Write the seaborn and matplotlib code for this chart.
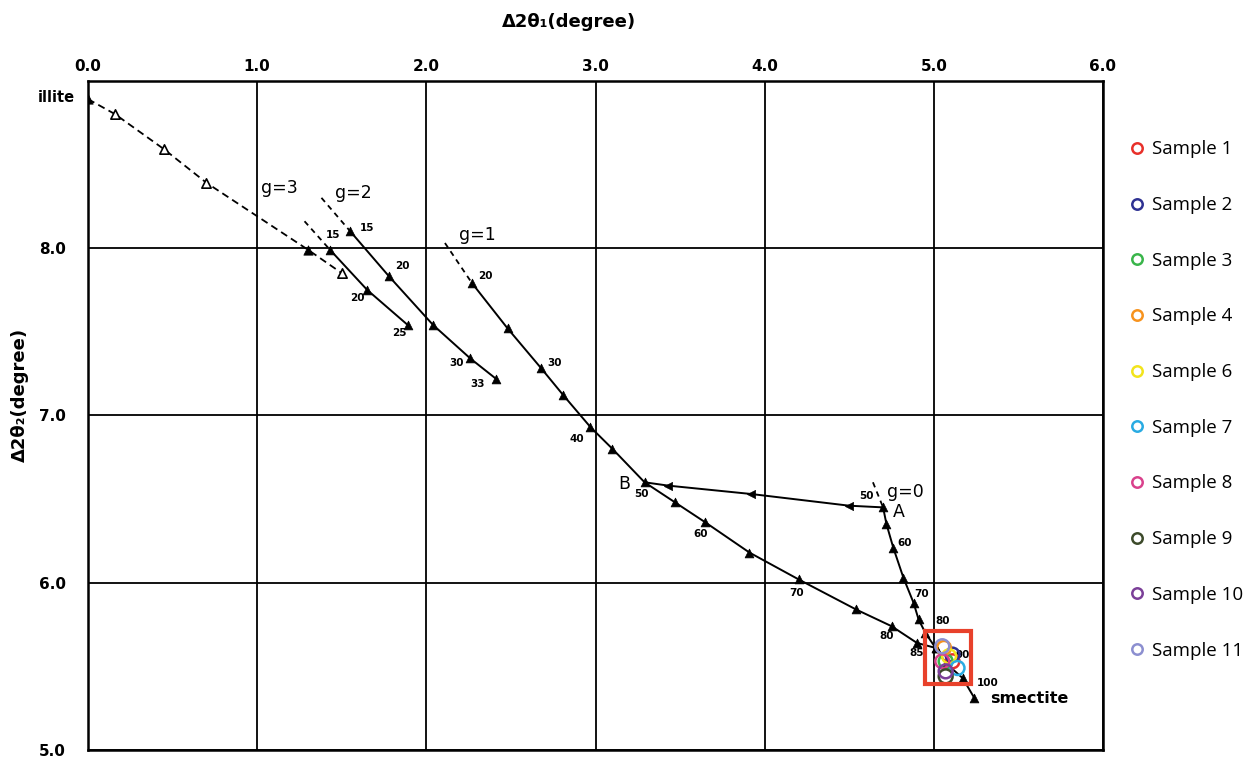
import numpy as np
import pandas as pd
import seaborn as sns
import matplotlib.pyplot as plt
from matplotlib.patches import Rectangle
from matplotlib.lines import Line2D

# illite line (dashed, open triangles)
illite_x = [0.0, 0.16, 0.45, 0.70, 1.30, 1.50]
illite_y = [8.89, 8.80, 8.59, 8.39, 7.99, 7.85]
illite_open = [False, True, True, True, False, True]

# g = 3 / 2 / 1 / 0 curves, first point = start of dashed lead-in
g3_x = [1.28, 1.43, 1.65, 1.89]
g3_y = [8.16, 7.99, 7.75, 7.54]

g2_x = [1.38, 1.55, 1.78, 2.04, 2.26, 2.41]
g2_y = [8.30, 8.10, 7.83, 7.54, 7.34, 7.22]

g1_x = [2.11, 2.27, 2.48, 2.68, 2.81, 2.97, 3.10, 3.29, 3.47, 3.65,
        3.91, 4.20, 4.54, 4.75, 4.90, 5.01, 5.07, 5.17, 5.24]
g1_y = [8.03, 7.79, 7.52, 7.28, 7.12, 6.93, 6.80, 6.60, 6.48, 6.36,
        6.18, 6.02, 5.84, 5.74, 5.64, 5.61, 5.52, 5.43, 5.31]

g0_x = [4.64, 4.70, 4.72, 4.76, 4.82, 4.88, 4.91, 4.95, 5.01]
g0_y = [6.60, 6.45, 6.35, 6.21, 6.03, 5.88, 5.78, 5.70, 5.61]

# A -> B connection
ab_x = [4.70, 4.50, 3.92, 3.43, 3.29]
ab_y = [6.45, 6.46, 6.53, 6.58, 6.60]

# samples
samples = ["Sample 1", "Sample 2", "Sample 3", "Sample 4", "Sample 6",
           "Sample 7", "Sample 8", "Sample 9", "Sample 10", "Sample 11"]
sample_x = [5.11, 5.11, 5.07, 5.06, 5.09, 5.14, 5.05, 5.07, 5.07, 5.05]
sample_y = [5.53, 5.57, 5.53, 5.61, 5.56, 5.49, 5.53, 5.44, 5.47, 5.62]
sample_colors = ["#e8302a", "#2e3192", "#39b54a", "#f7931e", "#f2e41c",
                 "#29abe2", "#d9418c", "#3c4a2a", "#7b3f98", "#8c8fd0"]

# numbers along the curves
point_labels = [
    ("15", 1.45, 8.08), ("20", 1.59, 7.70), ("25", 1.84, 7.49),
    ("15", 1.65, 8.12), ("20", 1.86, 7.89), ("30", 2.18, 7.31), ("33", 2.30, 7.19),
    ("20", 2.35, 7.83), ("30", 2.76, 7.31), ("40", 2.89, 6.86),
    ("50", 3.27, 6.53), ("60", 3.62, 6.29), ("70", 4.19, 5.94),
    ("80", 4.72, 5.68), ("85", 4.90, 5.58),
    ("50", 4.60, 6.52), ("60", 4.83, 6.24), ("70", 4.93, 5.93),
    ("80", 5.05, 5.77), ("90", 5.17, 5.57), ("100", 5.32, 5.40),
]
curve_labels = [("g=3", 1.13, 8.36), ("g=2", 1.57, 8.33), ("g=1", 2.30, 8.08),
                ("g=0", 4.83, 6.54), ("A", 4.79, 6.42), ("B", 3.17, 6.59)]

sns.set_style("white")
plt.rcParams['font.family'] = ['DejaVu Sans']
plt.rcParams['text.color'] = 'black'
plt.rcParams['xtick.color'] = 'black'
plt.rcParams['ytick.color'] = 'black'

fig = plt.figure(figsize=(12.58, 7.58), dpi=100)
ax = fig.add_axes([88 / 1258, 8 / 758, 1015 / 1258, 669.3 / 758])

# illite dashed line
sns.lineplot(x=illite_x, y=illite_y, sort=False, color="black", lw=1.3,
             linestyle=(0, (4, 2.5)), ax=ax)
ill = pd.DataFrame({"x": illite_x, "y": illite_y, "open": illite_open})
sns.scatterplot(data=ill[ill["open"]], x="x", y="y", marker="^", s=45,
                facecolor="white", edgecolor="black", linewidth=1.2, ax=ax, zorder=4)
sns.scatterplot(data=ill[~ill["open"]], x="x", y="y", marker="^", s=45,
                color="black", edgecolor="black", ax=ax, zorder=4)

for gx, gy in [(g3_x, g3_y), (g2_x, g2_y), (g1_x, g1_y), (g0_x, g0_y)]:
    sns.lineplot(x=gx[:2], y=gy[:2], sort=False, color="black", lw=1.3,
                 linestyle=(0, (3, 2.5)), ax=ax)
    sns.lineplot(x=gx[1:], y=gy[1:], sort=False, color="black", lw=1.4, ax=ax)
    sns.scatterplot(x=gx[1:], y=gy[1:], marker="^", s=40, color="black",
                    edgecolor="black", ax=ax, zorder=4)

sns.lineplot(x=ab_x, y=ab_y, sort=False, color="black", lw=1.4, ax=ax)
sns.scatterplot(x=ab_x[1:4], y=ab_y[1:4], marker="<", s=35, color="black",
                edgecolor="black", ax=ax, zorder=4)

for txt, x, y in point_labels:
    ax.text(x, y, txt, fontsize=7.5, fontweight="bold", ha="center",
            va="center", zorder=3)
for txt, x, y in curve_labels:
    ax.text(x, y, txt, fontsize=12.5, ha="center", va="center", zorder=3)

ax.text(-0.075, 8.90, "illite", fontsize=10.5, fontweight="bold",
        ha="right", va="center", clip_on=False)
ax.text(5.33, 5.31, "smectite", fontsize=11.5, fontweight="bold",
        ha="left", va="center")

# samples (open circles)
for name, x, y, c in zip(samples, sample_x, sample_y, sample_colors):
    sns.scatterplot(x=[x], y=[y], s=100, color=c, facecolor="none",
                    edgecolor=c, linewidth=1.8, ax=ax, zorder=6, legend=False)

ax.add_patch(Rectangle((4.947, 5.394), 0.272, 0.317, fill=False,
                       edgecolor="#e8412b", lw=3, zorder=7))

ax.set_xlim(0, 6)
ax.set_ylim(5, 9)
ax.set_xticks(np.arange(0, 7, 1))
ax.set_xticklabels([f"{v:.1f}" for v in np.arange(0, 7, 1)])
ax.set_yticks([5, 6, 7, 8])
ax.set_yticklabels(["5.0", "6.0", "7.0", "8.0"])
ax.xaxis.tick_top()
ax.tick_params(axis="x", length=0, pad=5, labelsize=11)
ax.tick_params(axis="y", length=0, pad=16, labelsize=11)
for lab in ax.get_xticklabels() + ax.get_yticklabels():
    lab.set_fontweight("bold")
ax.grid(True, color="black", lw=1.3)
for sp in ax.spines.values():
    sp.set_color("black")
    sp.set_linewidth(1.8)
ax.set_xlabel("")
ax.set_ylabel("")

ax.text(0.474, 1.088, "Δ2θ₁(degree)", transform=ax.transAxes, fontsize=13,
        fontweight="bold", ha="center", va="center")
ax.text(-0.067, 0.53, "Δ2θ₂(degree)", transform=ax.transAxes, fontsize=13,
        fontweight="bold", ha="center", va="center", rotation=90)

handles = [Line2D([], [], marker="o", linestyle="none", markersize=7.5,
                  markerfacecolor="none", markeredgecolor=c, markeredgewidth=1.8)
           for c in sample_colors]
fig.legend(handles, samples, loc="upper left", bbox_to_anchor=(1120 / 1258, 1 - 131 / 758),
           frameon=False, borderpad=0, labelspacing=2.01, handlelength=0.8,
           handletextpad=0.4, prop={"family": "Open Sans", "size": 13.5})

fig.savefig("out.png", dpi=100)
